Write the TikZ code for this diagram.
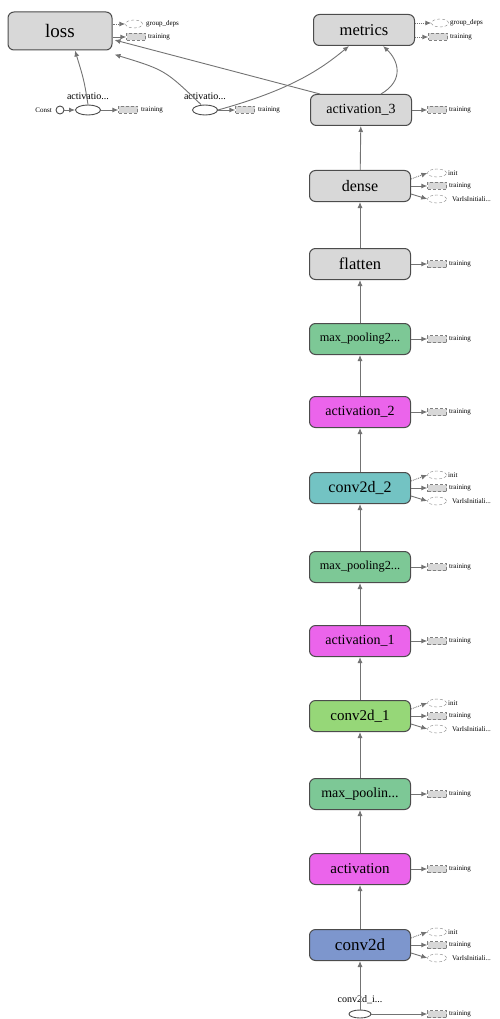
\documentclass[tikz,border=0pt]{standalone}
\usepackage{fontspec}
\setmainfont{Liberation Serif}
\usetikzlibrary{arrows.meta,shapes.geometric,calc}
\definecolor{ngray}{RGB}{216,216,216}
\definecolor{npool}{RGB}{125,200,150}
\definecolor{nact}{RGB}{235,100,235}
\definecolor{nteal}{RGB}{115,195,195}
\definecolor{nlgreen}{RGB}{150,215,120}
\definecolor{nblue}{RGB}{125,150,205}
\definecolor{ecol}{RGB}{115,115,115}
\tikzset{
  mn/.style={draw=black!70, line width=1pt, rounded corners=6pt, minimum width=101pt, minimum height=31pt, inner sep=0pt, font=\fontsize{14}{14}\selectfont},
  fs/.style={font=\fontsize{#1}{#1}\selectfont},
  srect/.style={draw=gray, densely dashed, fill=ngray, minimum width=19pt, minimum height=7pt, inner sep=0pt},
  sell/.style={ellipse, draw=gray, densely dashed, minimum width=19pt, minimum height=8pt, inner sep=0pt},
  stxt/.style={font=\fontsize{7}{7}\selectfont, inner sep=0pt, anchor=west},
  mtxt/.style={font=\fontsize{10}{10}\selectfont, inner sep=0pt},
  sarr/.style={-{Latex[length=6pt,width=5pt]}, draw=ecol, line width=0.9pt},
  darr/.style={sarr, densely dotted},
  opnode/.style={ellipse, draw=black!70, line width=0.9pt, fill=white, minimum width=25pt, minimum height=10pt, inner sep=0pt},
}
\newcommand\sidetr[2]{%
  \node[srect] (#1tr) at (437,#2) {};
  \node[stxt] (#1trl) at (449,#2) {training};
  \draw[sarr] (#1.east) -- (#1tr.west);}
\newcommand\sidetri[2]{%
  \node[sell] (#1in) at (437,{#2-13}) {};
  \node[stxt] (#1inl) at (448,{#2-13}) {init};
  \node[srect] (#1tr) at (437,#2) {};
  \node[stxt] (#1trl) at (449,#2) {training};
  \node[sell] (#1vi) at (437,{#2+13}) {};
  \node[stxt] (#1vil) at (452,{#2+13}) {VarIsInitiali...};
  \draw[darr] ([yshift=7pt]#1.east) -- (#1in.west);
  \draw[sarr] (#1.east) -- (#1tr.west);
  \draw[sarr] ([yshift=-8pt]#1.east) -- (#1vi.west);}
\begin{document}
\begin{tikzpicture}[x=1pt,y=-1pt]
\useasboundingbox (0,0) rectangle (499,1019);
% top nodes
\node[mn, fill=ngray, minimum width=104pt, minimum height=38pt, fs=19] (loss) at (60,31) {loss};
\node[mn, fill=ngray, fs=16.5] (metrics) at (364,30) {metrics};
% column
\node[mn, fill=ngray, fs=14] (act3) at (361,110) {activation\_3};
\node[mn, fill=ngray, fs=16] (dense) at (360,186) {dense};
\node[mn, fill=ngray, fs=16.5] (flat) at (360,264) {flatten};
\node[mn, fill=npool, fs=12.3] (mp2) at (360,339) {max\_pooling2...};
\node[mn, fill=nact, fs=14] (act2) at (360,412) {activation\_2};
\node[mn, fill=nteal, fs=16] (conv2) at (360,488) {conv2d\_2};
\node[mn, fill=npool, fs=12.3] (mp1) at (360,567) {max\_pooling2...};
\node[mn, fill=nact, fs=14] (act1) at (360,641) {activation\_1};
\node[mn, fill=nlgreen, fs=15] (conv1) at (360,716) {conv2d\_1};
\node[mn, fill=npool, fs=14] (mp0) at (360,794) {max\_poolin...};
\node[mn, fill=nact, fs=15] (act0) at (360,869) {activation};
\node[mn, fill=nblue, fs=17] (conv0) at (360,945) {conv2d};
% input
\node[opnode, minimum width=22pt, minimum height=8pt] (inp) at (360,1014) {};
\node[mtxt] (inpl) at (360,1000) {conv2d\_i...};
% column edges
\draw[sarr] (inp) -- (conv0.south);
\draw[sarr] (conv0) -- (act0);
\draw[sarr] (act0) -- (mp0);
\draw[sarr] (mp0) -- (conv1);
\draw[sarr] (conv1) -- (act1);
\draw[sarr] (act1) -- (mp1);
\draw[sarr] (mp1) -- (conv2);
\draw[sarr] (conv2) -- (act2);
\draw[sarr] (act2) -- (mp2);
\draw[sarr] (mp2) -- (flat);
\draw[sarr] (flat) -- (dense);
\draw[sarr] (dense) -- (act3);
% side items
\sidetr{act3}{110}
\sidetri{dense}{186}
\sidetr{flat}{264}
\sidetr{mp2}{339}
\sidetr{act2}{412}
\sidetri{conv2}{488}
\sidetr{mp1}{567}
\sidetr{act1}{641}
\sidetri{conv1}{716}
\sidetr{mp0}{794}
\sidetr{act0}{869}
\sidetri{conv0}{945}
\node[srect] (inptr) at (437,1014) {};
\node[stxt] (inptrl) at (449,1014) {training};
\draw[sarr] (inp.east) -- (inptr.west);
% loss side
\node[sell, minimum width=17pt] (lossgd) at (134,24) {};
\node[stxt] (lossgdl) at (146,24) {group\_deps};
\node[srect] (losstr) at (136,37) {};
\node[stxt] (losstrl) at (148,37) {training};
\draw[darr] ([yshift=7pt]loss.east) -- (lossgd.west);
\draw[sarr] ([yshift=-6pt]loss.east) -- (losstr.west);
% metrics side
\node[sell, minimum width=17pt] (metgd) at (440,23) {};
\node[stxt] (metgdl) at (450,23) {group\_deps};
\node[srect] (mettr) at (438,37) {};
\node[stxt] (mettrl) at (450,37) {training};
\draw[darr] ([yshift=7pt]metrics.east) -- (metgd.west);
\draw[darr] ([yshift=-7pt]metrics.east) -- (mettr.west);
% left ops
\node[circle, draw=black!70, line width=0.9pt, fill=white, minimum size=8pt, inner sep=0pt] (const) at (60,110) {};
\node[font=\fontsize{7}{7}\selectfont, inner sep=0pt, anchor=east] (constl) at (52,110) {Const};
\node[opnode] (e1) at (88,110) {};
\node[mtxt] (e1l) at (88,96) {activatio...};
\node[srect] (e1tr) at (128,110) {};
\node[stxt] (e1trl) at (141,110) {training};
\node[opnode] (e2) at (205,110) {};
\node[mtxt] (e2l) at (205,96) {activatio...};
\node[srect] (e2tr) at (245,110) {};
\node[stxt] (e2trl) at (258,110) {training};
\draw[sarr] (const) -- (e1);
\draw[sarr] (e1) -- (e1tr);
\draw[sarr] (e2) -- (e2tr);
\draw[sarr] (e1.north) .. controls (84,80) .. ($(loss.south)+(15,0)$);
\draw[sarr] ([xshift=-4pt]e2.north) .. controls (165,70) .. ($(loss.south east)+(2,4)$);
\draw[sarr] (e2.east) .. controls (290,90) and (320,70) .. ($(metrics.south west)+(36,0)$);
\draw[sarr] ($(act3.north west)+(10,0)$) -- ($(loss.east)+(2,9)$);
\draw[sarr] ($(act3.north)+(20,0)$) .. controls (405,80) and (398,60) .. ($(metrics.south)+(19,0)$);
\end{tikzpicture}
\end{document}
